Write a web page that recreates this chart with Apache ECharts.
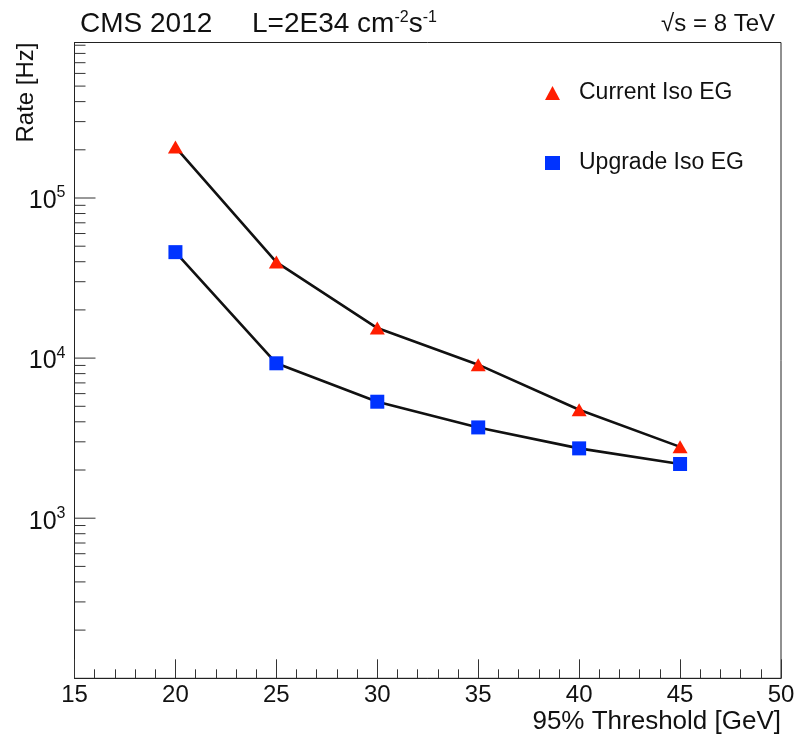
<!DOCTYPE html>
<html>
<head>
<meta charset="utf-8">
<script src="https://cdn.jsdelivr.net/npm/echarts@6/dist/echarts.min.js"></script>
<style>
html,body{margin:0;padding:0;background:#fff;}
#chart{width:798px;height:743px;}
</style>
</head>
<body>
<div id="chart"></div>
<script>
// Data
const thresholds = [20, 25, 30, 35, 40, 45];
const currentRate = [208000, 39800, 15400, 9100, 4760, 2790];
const upgradeRate = [45900, 9280, 5340, 3690, 2730, 2180];
const seriesNames = ['Current Iso EG', 'Upgrade Iso EG'];
const xTickValues = [15, 20, 25, 30, 35, 40, 45, 50];
const yLabelExponents = [3, 4, 5];
const yMin = 100, yMax = 936000;

const FONT = '"Liberation Sans", Arial, Helvetica, sans-serif';

// y-axis log ticks (major at decades, minor at 2..9)
const yTicks = [];
for (let e = 2; e <= 5; e++) {
  for (let m = 1; m <= 9; m++) {
    const v = m * Math.pow(10, e);
    if (v > yMin && v <= yMax) yTicks.push([xTickValues[0], v, m === 1 ? 1 : 0]);
  }
}

const chart = echarts.init(document.getElementById('chart'), null, {renderer: 'canvas'});

const supStyle = {fontFamily: FONT, fontSize: 16, color: '#111', padding: [0, 0, 13, 0], verticalAlign: 'bottom'};

const option = {
  backgroundColor: '#fff',
  animation: false,
  textStyle: {fontFamily: FONT},
  title: [
    {
      left: 75, top: 5,
      text: 'CMS 2012',
      textStyle: {fontFamily: FONT, fontSize: 28, fontWeight: 'normal', color: '#111'}
    },
    {
      left: 247, top: 5,
      text: 'L=2E34 cm{sup|-2}s{sup|-1}',
      textStyle: {
        fontFamily: FONT, fontSize: 28, fontWeight: 'normal', color: '#111',
        rich: {sup: supStyle}
      }
    },
    {
      right: 18, top: 7,
      text: '√s = 8 TeV',
      textStyle: {fontFamily: FONT, fontSize: 24, fontWeight: 'normal', color: '#111'}
    }
  ],
  legend: {
    orient: 'vertical',
    left: 540, top: 75,
    itemGap: 44,
    itemWidth: 15, itemHeight: 14,
    textStyle: {fontFamily: FONT, fontSize: 23, color: '#111', padding: [0, 0, 0, 14], lineHeight: 26},
    data: [
      {name: seriesNames[0], icon: 'triangle'},
      {name: seriesNames[1], icon: 'rect'}
    ]
  },
  grid: {
    left: 74.5, right: 17, top: 42.5, bottom: 64.7,
    show: true, borderColor: '#222', borderWidth: 1, containLabel: false
  },
  xAxis: {
    type: 'value', min: 15, max: 50, interval: 5,
    name: '95% Threshold [GeV]',
    nameLocation: 'end',
    nameGap: 0,
    nameTextStyle: {fontFamily: FONT, fontSize: 26, color: '#111', align: 'right', verticalAlign: 'top', padding: [31, 0, 0, 0]},
    axisLine: {show: true, onZero: false, lineStyle: {color: '#222', width: 1}},
    axisTick: {show: true, inside: true, length: 19, lineStyle: {color: '#333'}},
    minorTick: {show: true, splitNumber: 5, length: 9, lineStyle: {color: '#333'}},
    splitLine: {show: false},
    axisLabel: {fontFamily: FONT, fontSize: 24, color: '#111', margin: 5, showMinLabel: true, showMaxLabel: true}
  },
  yAxis: {
    type: 'log', logBase: 10, min: yMin, max: yMax,
    name: 'Rate [Hz]',
    nameLocation: 'end',
    nameRotate: 90,
    nameGap: 0,
    nameTextStyle: {fontFamily: FONT, fontSize: 24, color: '#111', align: 'right', verticalAlign: 'bottom', padding: [0, 0, 36, 0]},
    axisLine: {show: true, onZero: false, lineStyle: {color: '#222', width: 1}},
    axisTick: {show: false},
    minorTick: {show: false},
    splitLine: {show: false},
    axisLabel: {
      margin: 9,
      fontFamily: FONT, fontSize: 24, color: '#111',
      formatter: function (v) {
        const e = Math.round(Math.log10(v));
        if (yLabelExponents.indexOf(e) < 0) return '';
        return '{b|10}{s|' + e + '}';
      },
      rich: {
        b: {fontFamily: FONT, fontSize: 25, color: '#111', verticalAlign: 'bottom', padding: [0, 0, -3, 0]},
        s: {fontFamily: FONT, fontSize: 16, color: '#111', verticalAlign: 'bottom', padding: [0, 0, 10, 0]}
      }
    }
  },
  series: [
    {
      type: 'custom',
      silent: true,
      clip: false,
      data: yTicks,
      encode: {x: 0, y: 1},
      renderItem: function (params, api) {
        const p = api.coord([api.value(0), api.value(1)]);
        const len = api.value(2) ? 21 : 11;
        return {
          type: 'line',
          shape: {x1: p[0], y1: p[1], x2: p[0] + len, y2: p[1]},
          style: {stroke: '#333', lineWidth: 1}
        };
      },
      z: 1
    },
    {
      name: seriesNames[0],
      type: 'line',
      data: thresholds.map((t, i) => [t, currentRate[i]]),
      symbol: 'triangle',
      symbolSize: [15, 13],
      itemStyle: {color: '#ff1e00'},
      lineStyle: {color: '#111', width: 2.6},
      z: 3
    },
    {
      name: seriesNames[1],
      type: 'line',
      data: thresholds.map((t, i) => [t, upgradeRate[i]]),
      symbol: 'rect',
      symbolSize: 14,
      itemStyle: {color: '#0033ff'},
      lineStyle: {color: '#111', width: 2.6},
      z: 3
    }
  ]
};

chart.setOption(option);
</script>
</body>
</html>
